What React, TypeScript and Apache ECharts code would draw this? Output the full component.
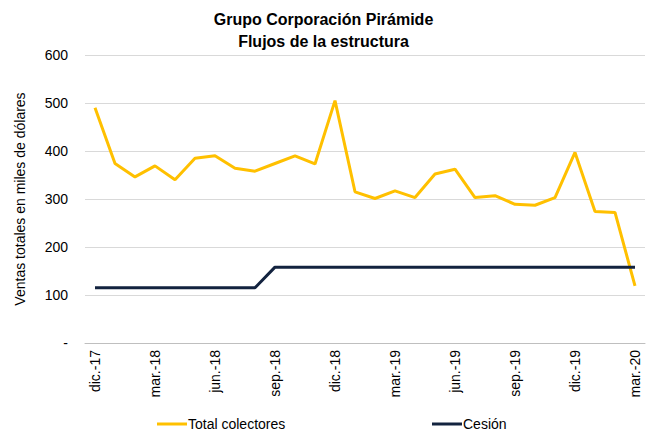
import React, { useEffect, useRef } from "react";
import * as echarts from "echarts";

const categories = [
  "dic.-17", "ene.-18", "feb.-18", "mar.-18", "abr.-18", "may.-18", "jun.-18", "jul.-18", "ago.-18",
  "sep.-18", "oct.-18", "nov.-18", "dic.-18", "ene.-19", "feb.-19", "mar.-19", "abr.-19", "may.-19",
  "jun.-19", "jul.-19", "ago.-19", "sep.-19", "oct.-19", "nov.-19", "dic.-19", "ene.-20", "feb.-20", "mar.-20",
];

const totalColectores = [
  490, 374, 346, 369, 340, 385, 390, 364, 358,
  374, 390, 373, 505, 315, 301, 317, 303, 352,
  362, 303, 307, 289, 287, 303, 397, 274, 272, 119,
];

const cesion = [
  115, 115, 115, 115, 115, 115, 115, 115, 115,
  158, 158, 158, 158, 158, 158, 158, 158, 158,
  158, 158, 158, 158, 158, 158, 158, 158, 158, 158,
];

const FONT = "Liberation Sans";

export default function App() {
  const ref = useRef<HTMLDivElement>(null);
  useEffect(() => {
    if (!ref.current) return;
    const chart = echarts.init(ref.current, null, { renderer: "svg" });
    chart.setOption({
      animation: false,
      textStyle: { fontFamily: FONT },
      title: {
        text: "Grupo Corporación Pirámide\nFlujos de la estructura",
        left: "center",
        top: 3,
        textStyle: { fontFamily: FONT, fontSize: 16, fontWeight: "bold", color: "#000", lineHeight: 22 },
      },
      legend: [
        {
          data: ["Total colectores"],
          left: 152,
          top: 412,
          padding: [5, 5, 3, 5],
          itemWidth: 30,
          itemHeight: 3,
          icon: "rect",
          textStyle: { fontFamily: FONT, fontSize: 14, color: "#000", padding: [0, 0, 0, -4] },
        },
        {
          data: ["Cesión"],
          left: 427,
          top: 412,
          padding: [5, 5, 3, 5],
          itemWidth: 30,
          itemHeight: 3,
          icon: "rect",
          textStyle: { fontFamily: FONT, fontSize: 14, color: "#000", padding: [0, 0, 0, -4] },
        },
      ],
      grid: { left: 85, right: 2, top: 55, bottom: 93, containLabel: false },
      xAxis: {
        type: "category",
        data: categories,
        boundaryGap: true,
        axisLine: { lineStyle: { color: "#bfbfbf" } },
        axisTick: { interval: 2, length: 5, lineStyle: { color: "#bfbfbf" } },
        axisLabel: { interval: 2, rotate: 90, fontSize: 14, color: "#000", margin: 7, fontFamily: FONT },
      },
      yAxis: {
        type: "value",
        min: 0,
        max: 600,
        interval: 100,
        name: "Ventas totales en miles de dólares",
        nameLocation: "middle",
        nameGap: 58,
        nameTextStyle: { fontFamily: FONT, fontSize: 14, color: "#000" },
        axisLine: { show: false },
        axisTick: { show: false },
        splitLine: { lineStyle: { color: "#d9d9d9" } },
        axisLabel: {
          fontSize: 14,
          color: "#000",
          margin: 17,
          fontFamily: FONT,
          formatter: (v: number) => (v === 0 ? "-" : String(v)),
        },
      },
      series: [
        {
          name: "Total colectores",
          type: "line",
          data: totalColectores,
          showSymbol: false,
          symbol: "none",
          lineStyle: { color: "#FFC000", width: 3 },
          itemStyle: { color: "#FFC000" },
        },
        {
          name: "Cesión",
          type: "line",
          data: cesion,
          showSymbol: false,
          symbol: "none",
          lineStyle: { color: "#13233F", width: 3 },
          itemStyle: { color: "#13233F" },
        },
      ],
    });
    return () => chart.dispose();
  }, []);
  return <div ref={ref} style={{ width: 647, height: 436, position: "absolute", left: 0, top: 0 }} />;
}
